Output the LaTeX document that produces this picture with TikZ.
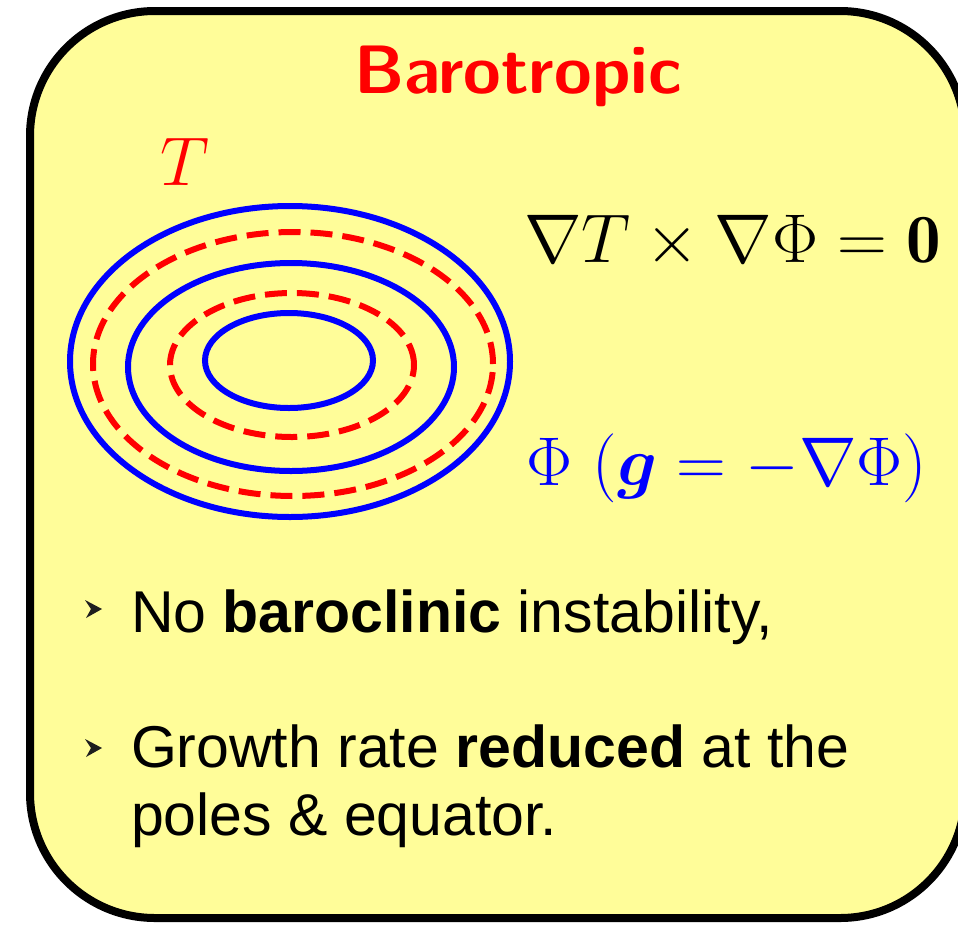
\RequirePackage{fix-cm}
\documentclass[tikz,border=0pt]{standalone}
\usepackage{amsmath}
\usepackage{fontspec}
\newfontfamily\arialfont{Liberation Sans}
\definecolor{boxyellow}{RGB}{255,253,153}
\definecolor{markgray}{RGB}{30,30,30}
\tikzset{
  frame/.style={draw=black, line width=8pt, fill=boxyellow, rounded corners=125pt},
  isoPhi/.style={draw=blue, line width=6pt},
  isoT/.style={draw=red, line width=6pt, dash pattern=on 22pt off 10pt},
  txt/.style={anchor=base west, inner sep=0pt, outer sep=0pt},
  bodytxt/.style={txt, font=\arialfont\fontsize{59}{68}\selectfont},
  mathtxt/.style={txt, font=\fontsize{69}{72}\selectfont},
  marker/.style={fill=markgray}
}
\begin{document}
\begin{tikzpicture}[x=1pt, y=-1pt]
\useasboundingbox (0,0) rectangle (958,927);
\begin{scope}
\clip (0,0) rectangle (958,927);
\path[frame] (30,11) rectangle (965,918);
\end{scope}

\node[txt, text=red, font=\sffamily\bfseries\fontsize{68.5}{78}\selectfont] (title) at (354,93) {Barotropic};
\node[mathtxt, text=red] (tlabel) at (160,185) {$T$};

\draw[isoPhi] (290,361.5) ellipse [x radius=220pt, y radius=155.5pt];
\draw[isoT]   (293,364) ellipse [x radius=200pt, y radius=132pt];
\draw[isoPhi] (291,367) ellipse [x radius=163pt, y radius=104pt];
\draw[isoT]   (292,365) ellipse [x radius=122pt, y radius=72pt];
\draw[isoPhi] (289,360.5) ellipse [x radius=84pt, y radius=47.5pt];

\node[mathtxt] (eq) at (524,262) {$\nabla T\times\nabla\Phi=\mathbf{0}$};
\node[mathtxt, text=blue] (phi) at (526,485) {$\Phi\ (\boldsymbol{g}=-\nabla\Phi)$};

\coordinate (m1) at (85,609);
\coordinate (m2) at (85,748);
\fill[marker] (m1) ++(0,-9) -- ++(17,9) -- ++(-16,9) -- ++(5,-9) -- cycle;
\fill[marker] (m2) ++(0,-9) -- ++(17,9) -- ++(-16,9) -- ++(5,-9) -- cycle;

\node[bodytxt] (b1) at (131,632) {No \textbf{baroclinic} instability,};
\node[bodytxt] (b2) at (131,767) {Growth rate \textbf{reduced} at the};
\node[bodytxt] (b3) at (131,835) {poles \& equator.};
\end{tikzpicture}
\end{document}
